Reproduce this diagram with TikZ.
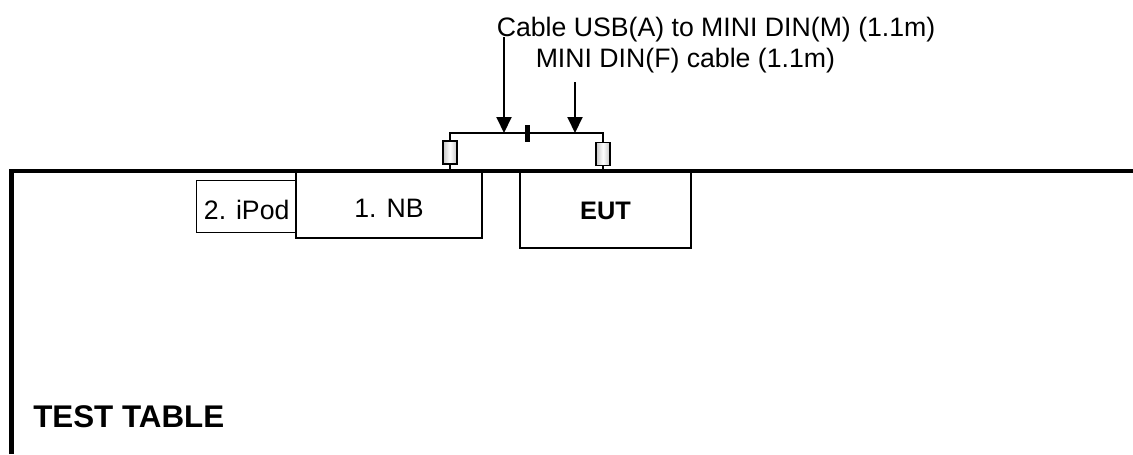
\documentclass[tikz,border=0pt]{standalone}
\usepackage{fontspec}
\setmainfont{Liberation Sans}
\usepackage{tikz}
\usetikzlibrary{arrows.meta, positioning}

\begin{document}
\begin{tikzpicture}[x=0.75pt, y=-0.75pt,
    device/.style={rectangle, draw=black, line width=1.1pt, inner sep=0pt, align=center, text height=18.8pt, font=\fontsize{20}{24}\selectfont},
    plug/.style={rectangle, draw=black, line width=1pt, left color=gray!45, right color=gray!45, middle color=white, inner sep=0pt, minimum width=10.5pt, minimum height=17.25pt},
    label/.style={anchor=base west, inner sep=0pt, font=\fontsize{20}{24}\selectfont},
    wire/.style={line width=1.1pt},
    arrow/.style={-{Triangle[length=12pt, width=11.25pt]}, line width=1.5pt}
]
\useasboundingbox (0,0) rectangle (1133,454);
\coordinate (tablecorner) at (11.7,171);
\coordinate (usbtop) at (504,37);
\coordinate (usbtip) at (504,133);
\coordinate (dintop) at (575,82);
\coordinate (dintip) at (575,133);

\node[device, minimum width=75pt, minimum height=39pt] (ipod) at (246.7,206.7) {2. iPod};
\node[device, minimum width=139.5pt, minimum height=49.5pt] (nb) at (389,205) {1. NB};
\node[device, minimum width=128.25pt, minimum height=57pt, text height=13.8pt, font=\fontsize{19}{23}\selectfont\bfseries] (eut) at (605.5,210) {EUT};
\node[plug] (plugnb) at (450,152.5) {};
\node[plug] (plugeut) at (603,154) {};
\node[fill=black, inner sep=0pt, minimum width=3.75pt, minimum height=12.75pt] (tick) at (527,133.5) {};

\node[label] (usblabel) at (496.5,36) {Cable USB(A) to MINI DIN(M) (1.1m)};
\node[label] (dinlabel) at (535.5,67) {MINI DIN(F) cable (1.1m)};
\node[label, font=\fontsize{23.5}{28}\selectfont\bfseries] (tablelabel) at (33,427) {TEST TABLE};

\draw[line width=3.4pt] (tablecorner |- 0,454) -- (tablecorner) -- (1133,171);
\draw[wire] (plugnb.south) -- (plugnb.south |- tablecorner);
\draw[wire] (plugeut.south) -- (plugeut.south |- tablecorner);
\draw[wire] (plugnb.north) |- (usbtip) -| (plugeut.north);
\draw[arrow] (usbtop) -- (usbtip);
\draw[arrow] (dintop) -- (dintip);
\end{tikzpicture}
\end{document}
